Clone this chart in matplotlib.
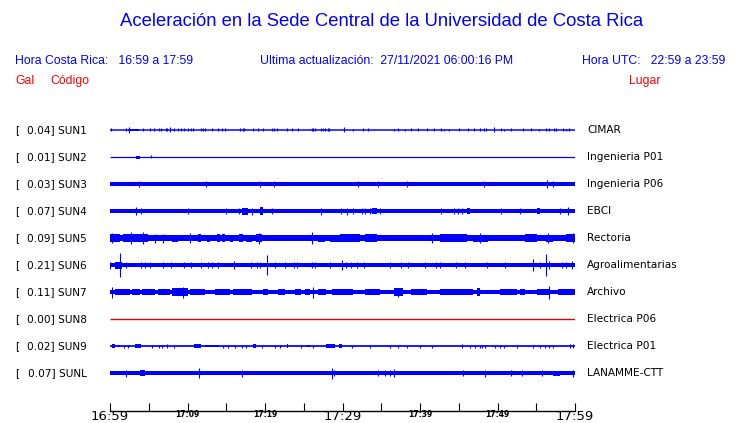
import matplotlib
matplotlib.use("Agg")
import matplotlib.pyplot as plt

# stations, peak acceleration (Gal) and place names
codes = ["SUN1", "SUN2", "SUN3", "SUN4", "SUN5", "SUN6", "SUN7", "SUN8", "SUN9", "SUNL"]
gal = [0.04, 0.01, 0.03, 0.07, 0.09, 0.21, 0.11, 0.00, 0.02, 0.07]
places = ["CIMAR", "Ingenieria P01", "Ingenieria P06", "EBCI", "Rectoria",
          "Agroalimentarias", "Archivo", "Electrica P06", "Electrica P01", "LANAMME-CTT"]

# background noise half-amplitude of each trace (arbitrary units)
base_amp = [0.6, 0.5, 2.2, 2.1, 3.0, 2.0, 2.4, 0.5, 0.7, 2.1]

# time ticks (minutes after 16:59)
tick_min = [0, 5, 10, 15, 20, 25, 30, 35, 40, 45, 50, 55, 60]
tick_lab = ["16:59", "", "17:09", "", "17:19", "", "17:29", "", "17:39", "", "17:49", "", "17:59"]

# spikes: (minute, half-amplitude)
spikes_sun1 = [(0.1, 1.5), (2.0, 1.5), (2.5, 3.0), (4.3, 1.5), (5.1, 1.5), (5.7, 1.5), (6.3, 1.5),
               (6.6, 1.5), (7.2, 1.5), (7.4, 1.5), (7.8, 2.5), (8.2, 1.5), (8.8, 1.5), (9.2, 1.5),
               (9.5, 1.5), (10.1, 1.5), (10.5, 1.5), (10.7, 1.5), (11.7, 1.5), (12.0, 1.5),
               (12.3, 1.5), (13.2, 1.5), (13.9, 1.5), (14.5, 1.5), (14.9, 1.5), (16.8, 1.5),
               (17.1, 1.5), (17.3, 1.5), (18.5, 1.5), (19.1, 1.5), (19.8, 1.5), (20.9, 1.5),
               (21.1, 1.5), (21.6, 1.5), (22.9, 1.5), (23.5, 1.5), (24.2, 1.5), (26.0, 1.5),
               (26.2, 1.5), (26.5, 1.5), (27.2, 1.5), (27.5, 1.5), (27.7, 1.5), (28.1, 1.5),
               (28.3, 1.5), (30.2, 2.5), (31.4, 1.0), (32.6, 1.5), (33.3, 1.5), (36.6, 1.0),
               (37.2, 1.5), (38.0, 1.0), (38.8, 1.5), (39.7, 1.5), (40.9, 1.5), (41.8, 1.5),
               (42.7, 1.5), (43.1, 1.0), (43.7, 1.0), (45.0, 1.5), (46.2, 1.5), (47.0, 1.5),
               (47.7, 1.5), (48.2, 1.5), (48.5, 1.5), (49.5, 2.5), (50.4, 1.5), (50.9, 1.0),
               (51.7, 1.5), (53.3, 1.5), (54.3, 1.5), (55.4, 1.0), (56.3, 1.5), (56.6, 1.5),
               (57.3, 1.5), (57.6, 1.5), (58.5, 1.5), (58.9, 1.0), (59.2, 1.5)]
spikes_sun2 = [(5.3, 1.5)]
spikes_sun3 = [(3.7, 3.0), (12.4, 2.8), (19.3, 3.0), (21.2, 2.8), (32.0, 2.8), (34.6, 2.8),
               (38.3, 2.8), (48.2, 2.8), (56.4, 3.8), (57.2, 2.8)]
spikes_sun4 = [(3.4, 4.0), (4.0, 3.0), (10.0, 3.0), (15.0, 3.0), (16.6, 3.0), (18.3, 3.5),
               (20.9, 3.0), (27.2, 3.5), (29.8, 3.0), (30.6, 3.5), (31.4, 3.0), (32.5, 3.0),
               (32.9, 3.0), (33.5, 3.0), (34.8, 3.0), (42.7, 3.0), (44.4, 3.0), (44.9, 3.0),
               (45.4, 3.0), (50.5, 3.0), (52.9, 3.0), (58.1, 3.0), (59.1, 4.0)]
spikes_sun5 = [(0.2, 5.0), (2.7, 6.0), (4.3, 6.0), (5.8, 4.5), (6.8, 4.5), (10.3, 5.0),
               (19.2, 5.5), (26.0, 6.0), (41.5, 5.0), (47.8, 5.0), (56.5, 5.0), (59.8, 5.0)]
spikes_sun6 = [(0.0, 3.5), (1.3, 12.0), (2.1, 3.0), (4.0, 3.0), (4.5, 3.0), (5.2, 3.0),
               (6.9, 3.0), (7.9, 3.0), (9.5, 3.0), (10.5, 3.0), (11.8, 3.0), (12.7, 3.0),
               (13.1, 3.0), (13.9, 3.0), (16.0, 4.0), (18.2, 3.0), (19.0, 3.0), (19.4, 3.0),
               (20.2, 10.0), (21.3, 3.0), (22.6, 3.0), (23.7, 3.0), (24.1, 3.0), (26.0, 3.0),
               (26.4, 3.0), (28.4, 3.0), (29.9, 5.0), (30.5, 3.0), (31.1, 3.0), (31.9, 3.0),
               (32.8, 3.0), (36.1, 3.0), (37.6, 3.0), (38.5, 3.0), (40.6, 3.0), (42.0, 3.0),
               (42.6, 3.0), (44.7, 3.0), (45.8, 3.0), (48.6, 3.0), (51.0, 3.0), (54.6, 6.0),
               (55.5, 3.0), (56.2, 11.0), (56.6, 4.0), (58.3, 3.0), (58.9, 3.0), (59.6, 4.0)]
spikes_sun7 = [(0.2, 5.5), (9.4, 5.5), (26.2, 5.5), (37.2, 4.5), (56.7, 6.5)]
spikes_sun8 = []
spikes_sun9 = [(1.8, 1.5), (2.3, 1.5), (5.4, 1.5), (6.3, 1.5), (6.7, 1.5), (7.3, 2.0),
               (8.2, 1.5), (14.6, 1.5), (15.2, 1.5), (16.1, 1.5), (17.0, 1.5), (17.6, 1.5),
               (19.6, 1.5), (21.3, 1.5), (21.9, 1.5), (24.7, 1.5), (26.2, 1.5), (31.2, 1.5),
               (33.5, 1.5), (36.1, 1.5), (37.2, 1.5), (38.3, 1.5), (40.0, 1.5), (41.5, 1.5),
               (45.4, 2.0), (46.5, 1.5), (47.1, 1.5), (47.7, 1.5), (48.0, 1.5), (48.4, 1.5),
               (49.7, 1.5), (50.3, 1.5), (50.8, 1.5), (52.5, 1.5), (54.6, 1.5), (55.5, 1.5),
               (56.1, 1.5), (56.6, 1.5), (57.2, 1.5), (59.4, 2.0), (59.8, 2.0)]
spikes_sunl = [(2.1, 3.5), (11.5, 5.0), (17.0, 3.5), (28.6, 5.5), (28.9, 3.0), (34.6, 3.0),
               (35.5, 3.0), (36.1, 3.0), (36.7, 4.0), (45.6, 3.0), (48.4, 3.5), (51.8, 3.0),
               (53.1, 3.0), (55.7, 3.0), (59.8, 3.5)]

# bursts: (start minute, end minute, half-amplitude)
bursts_sun1 = [(2.3, 3.7, 1.3), (4.2, 4.4, 1.3)]
bursts_sun2 = [(3.4, 3.9, 1.5)]
bursts_sun3 = []
bursts_sun4 = [(17.0, 17.8, 3.5), (19.4, 19.8, 3.8), (33.8, 34.4, 3.3), (46.0, 46.4, 3.0),
               (55.1, 55.5, 3.0)]
bursts_sun5 = [(0.0, 1.3, 4.0), (1.7, 4.9, 4.3), (8.0, 8.8, 3.5), (11.4, 11.8, 3.8),
               (12.5, 12.9, 3.5), (13.8, 14.2, 3.8), (14.4, 14.8, 4.0), (15.5, 15.9, 3.5),
               (16.6, 17.2, 3.8), (17.6, 18.3, 3.5), (18.9, 19.6, 4.2), (20.2, 21.5, 3.3),
               (22.2, 23.4, 3.3), (24.3, 25.2, 3.3), (26.9, 27.7, 3.5), (28.4, 30.3, 3.5),
               (29.7, 32.3, 3.8), (32.9, 34.4, 3.8), (34.8, 38.3, 3.3), (38.7, 42.2, 3.3),
               (42.6, 46.0, 4.0), (46.9, 48.8, 3.5), (49.4, 52.9, 3.3), (53.5, 55.1, 3.8),
               (56.3, 57.2, 3.5), (58.9, 60.0, 4.2)]
bursts_sun6 = [(0.6, 1.5, 3.5)]
bursts_sun7 = [(0.6, 2.6, 3.0), (2.8, 3.9, 3.3), (4.1, 5.8, 3.0), (6.2, 7.7, 3.0),
               (8.0, 10.1, 3.6), (10.3, 12.3, 3.0), (13.5, 15.5, 3.0), (15.9, 18.3, 3.0),
               (19.8, 20.4, 3.4), (21.7, 22.6, 3.4), (23.9, 24.7, 3.0), (25.2, 25.8, 3.0),
               (26.9, 27.9, 3.0), (28.6, 30.3, 3.0), (29.7, 31.4, 3.0), (32.9, 34.8, 2.8),
               (36.6, 37.8, 3.6), (38.9, 40.9, 3.0), (42.6, 46.9, 3.0), (47.3, 47.7, 3.6),
               (50.3, 52.5, 3.0), (52.9, 53.5, 3.0), (55.1, 56.6, 3.4), (57.8, 60.0, 3.0)]
bursts_sun8 = []
bursts_sun9 = [(0.2, 0.6, 1.8), (0.9, 1.3, 1.4), (3.2, 4.0, 1.8), (10.9, 11.8, 1.8),
               (12.3, 14.0, 1.3), (18.5, 18.9, 1.8), (22.8, 23.0, 1.8), (25.4, 25.8, 1.4),
               (27.9, 29.0, 1.8), (29.5, 29.9, 1.8)]
bursts_sunl = [(3.9, 4.5, 3.3), (57.2, 58.1, 2.5)]

spikes = [spikes_sun1, spikes_sun2, spikes_sun3, spikes_sun4, spikes_sun5,
          spikes_sun6, spikes_sun7, spikes_sun8, spikes_sun9, spikes_sunl]
bursts = [bursts_sun1, bursts_sun2, bursts_sun3, bursts_sun4, bursts_sun5,
          bursts_sun6, bursts_sun7, bursts_sun8, bursts_sun9, bursts_sunl]

BLUE = "#0000ff"
RED = "#ff0000"
W, H = 740, 423

fig = plt.figure(figsize=(W / 100, H / 100), dpi=100)
fig.patch.set_facecolor("white")


def px(x, y):
    return x / W, 1 - y / H


# header texts
hdr = ["Liberation Sans", "DejaVu Sans"]
fig.text(*px(382, 22), "Aceleración en la Sede Central de la Universidad de Costa Rica",
         ha="center", va="center", color=BLUE, fontsize=13.3, family=hdr)
fig.text(*px(15, 61), "Hora Costa Rica:   16:59 a 17:59", ha="left", va="center",
         color=BLUE, fontsize=8.8, family=hdr)
fig.text(*px(260, 61), "Ultima actualización:  27/11/2021 06:00:16 PM", ha="left",
         va="center", color=BLUE, fontsize=8.8, family=hdr)
fig.text(*px(725, 61), "Hora UTC:   22:59 a 23:59", ha="right", va="center",
         color=BLUE, fontsize=8.8, family=hdr)
fig.text(*px(15, 81), "Gal", ha="left", va="center", color=RED, fontsize=8.8, family=hdr)
fig.text(*px(50, 81), "Código", ha="left", va="center", color=RED, fontsize=8.8, family=hdr)
fig.text(*px(629, 81), "Lugar", ha="left", va="center", color=RED, fontsize=8.8, family=hdr)

# trace panel: 1 y unit = 1 pixel
top, bottom = 103, 400
ax = fig.add_axes([110 / W, 1 - bottom / H, 465 / W, (bottom - top) / H])
ax.set_xlim(0, 60)
ax.set_ylim(bottom, top)
ax.axis("off")

for i, code in enumerate(codes):
    yc = 130 + 27 * i
    color = "#e00000" if gal[i] == 0 else BLUE
    b = base_amp[i]
    if b <= 0.7:
        ax.hlines(yc, 0, 60, color=color, lw=1.0 if gal[i] == 0 else b * 1.8)
    else:
        ax.fill_between([0, 60], yc - b, yc + b, color=color, lw=0)
    for s, e, a in bursts[i]:
        ax.fill_between([s, e], yc - a, yc + a, color=color, lw=0)
    if spikes[i]:
        t = [m for m, a in spikes[i]]
        amp = [a for m, a in spikes[i]]
        ax.vlines(t, [yc - a for a in amp], [yc + a for a in amp], color=color, lw=0.8)

    fig.text(*px(15, yc), "[", ha="left", va="center", fontsize=7.6, family="DejaVu Sans")
    fig.text(*px(87, yc), f"{gal[i]:.2f}] {code}", ha="right", va="center", fontsize=7.6,
             family="DejaVu Sans")
    fig.text(*px(587, yc), places[i], ha="left", va="center", fontsize=7.6,
             family="DejaVu Sans")

# time axis
tax = fig.add_axes([110 / W, 1 - 411 / H, 465 / W, 0.0001])
tax.set_xlim(0, 60)
tax.set_yticks([])
for side in ["top", "left", "right"]:
    tax.spines[side].set_visible(False)
tax.spines["bottom"].set_linewidth(1)
tax.set_xticks(tick_min)
tax.set_xticklabels(tick_lab)
tax.tick_params(axis="x", direction="in", length=6, width=0.8, pad=-1)
for lab in tax.get_xticklabels():
    if lab.get_text() in ("16:59", "17:29", "17:59"):
        lab.set_fontsize(9.5)
    else:
        lab.set_fontsize(5.5)
        lab.set_fontweight("bold")

fig.savefig("out.png", dpi=100)
